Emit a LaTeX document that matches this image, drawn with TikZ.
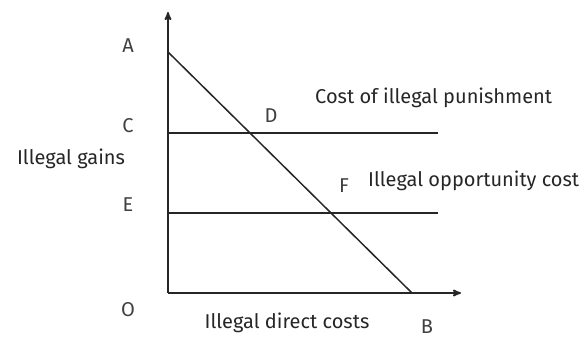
\documentclass[tikz,border=0pt]{standalone}
\usepackage{fontspec}
\setmainfont{Fira Sans}
\usetikzlibrary{calc}
\usetikzlibrary{arrows}
\usetikzlibrary{intersections}

\begin{document}
\begin{tikzpicture} [x=1pt,y=1pt, font=\fontsize{20}{22}\selectfont]
\useasboundingbox (-168,-46) rectangle (419,293);
\coordinate (O) at (0,0);
\coordinate (ytop) at (0,281);
\coordinate (xend) at (293,0);
\coordinate (A) at (0,241);
\coordinate (B) at (244,0);
\coordinate (C) at (0,160);
\coordinate (E) at (0,80);
\coordinate (Cend) at (270,160);
\coordinate (Eend) at (270,80);
\draw[black!85,line width=1.7pt, ->, >=stealth'] (O)--(ytop);
\draw[black!85,line width=1.7pt, ->, >=stealth'] (O)--(xend);
\draw[black!85,line width=1.5pt, name path=cline] (C)--(Cend);
\draw[black!85,line width=1.5pt, name path=eline] (E)--(Eend);
\draw[black!85,line width=1.5pt, name path=abline] (A)--(B);
\path[name intersections={of=abline and cline, by=D}];
\path[name intersections={of=abline and eline, by=F}];
 \node[black!75] (labA) at (-40,247) {A};
 \node[black!75] (labC) at (-40,167) {C};
 \node[black!75] (labE) at (-40,88) {E};
 \node[black!75] (labO) at (-40,-17) {O};
 \node[black!75] (labB) at (259,-34) {B};
 \node[black!75] (labD) at ($(D)+(21,17)$) {D};
 \node[black!75] (labF) at ($(F)+(13,27)$) {F};
 \node[black!85] (gains) at (-97,134) {Illegal gains};
 \node[black!85] (direct) at (119,-30) {Illegal direct costs};
 \node[black!85, right, inner sep=0] (punish) at (147,195) {Cost of illegal punishment};
 \node[black!85, right, inner sep=0] (opport) at (200,112) {Illegal opportunity cost};
\end{tikzpicture}
\end{document}
